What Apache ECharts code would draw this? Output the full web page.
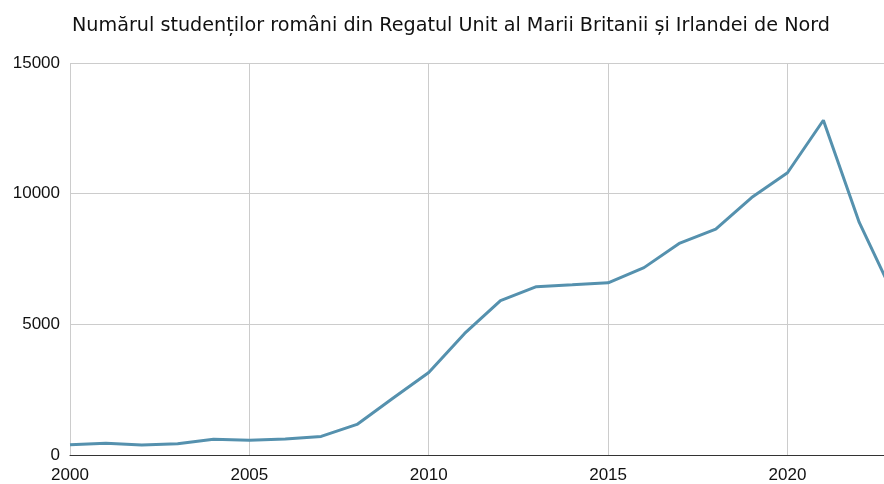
<!DOCTYPE html>
<html>
<head>
<meta charset="utf-8">
<script src="https://cdn.jsdelivr.net/npm/echarts@6/dist/echarts.min.js"></script>
<style>html,body{margin:0;padding:0;background:#fff;}#c{width:884px;height:484px;}</style>
</head>
<body>
<div id="c"></div>
<script>
var titleText = 'Numărul studenților români din Regatul Unit al Marii Britanii și Irlandei de Nord';
var years = [2000,2001,2002,2003,2004,2005,2006,2007,2008,2009,2010,2011,2012,2013,2014,2015,2016,2017,2018,2019,2020,2021,2022,2023];
var students = [390,450,380,430,600,560,610,710,1170,2170,3160,4650,5910,6440,6510,6590,7170,8110,8640,9850,10800,12810,8900,6000];
var yTicks = [0,5000,10000,15000];

var chart = echarts.init(document.getElementById('c'), null, {renderer:'canvas'});
var font = 'Liberation Sans, Arial, sans-serif';
chart.setOption({
  animation:false,
  backgroundColor:'#fff',
  title:{text:titleText,left:72,top:17,padding:0,textStyle:{fontFamily:'DejaVu Sans, sans-serif',fontSize:19.2,fontWeight:'normal',color:'#111'}},
  grid:{left:70,right:0,top:63,bottom:27,containLabel:false},
  xAxis:{type:'value',min:2000,max:2022.69,interval:5,
    axisLine:{show:true,onZero:false,lineStyle:{color:'#333',width:1}},
    axisTick:{show:false},
    axisLabel:{fontFamily:font,fontSize:17,color:'#111',margin:12,showMaxLabel:false,formatter:function(v){return String(v);}},
    splitLine:{show:true,showMaxLine:false,lineStyle:{color:'#cccccc',width:1}}},
  yAxis:{type:'value',min:yTicks[0],max:yTicks[yTicks.length-1],interval:5000,
    axisLine:{show:false},axisTick:{show:false},
    axisLabel:{fontFamily:font,fontSize:17,color:'#111',margin:10,formatter:function(v){return String(v);}},
    splitLine:{show:true,lineStyle:{color:'#cccccc',width:1}}},
  series:[{type:'line',data:years.map(function(y,i){return [y,students[i]];}),
    showSymbol:false,symbol:'none',clip:true,
    lineStyle:{color:'#5591ae',width:3},itemStyle:{color:'#5591ae'}}]
});
</script>
</body>
</html>
